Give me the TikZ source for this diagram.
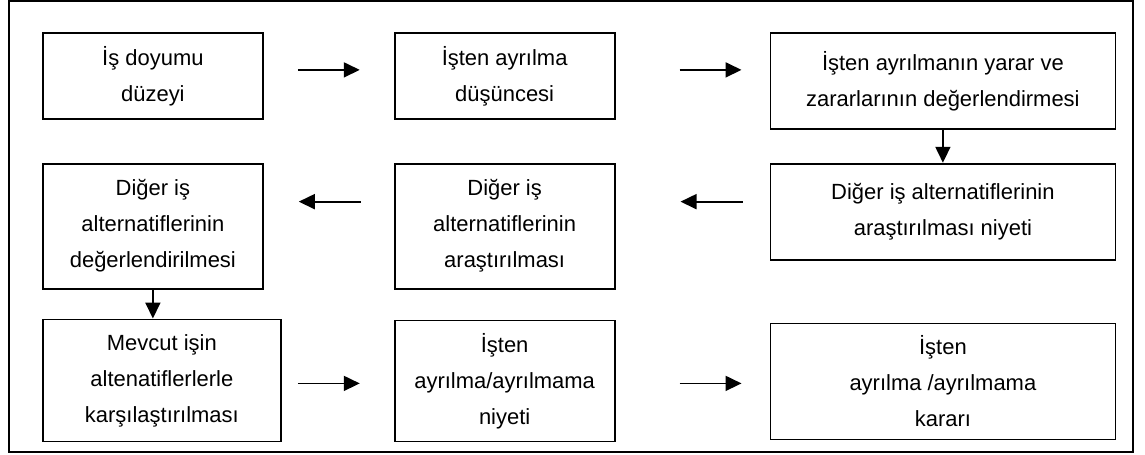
\documentclass[tikz,border=0pt]{standalone}
\usepackage{fontspec}
\setmainfont{Liberation Sans}
\usetikzlibrary{positioning,arrows.meta}

\begin{document}
\begin{tikzpicture}[
    every node/.style={font=\fontsize{12.5}{20.5}\selectfont},
    stage/.style={draw, line width=1pt, align=center, inner sep=3pt,
                  minimum width=4.4cm, minimum height=1.72cm},
    wide/.style={stage, minimum width=6.9cm, minimum height=1.92cm},
    flow/.style={-{Triangle[length=0.32cm, width=0.3cm]}, line width=1pt},
  ]
  \useasboundingbox (0,0) rectangle (22.9,-9.08);

  % outer frame
  \draw[line width=1pt] (0.18,-0.02) rectangle (22.66,-9.04);

  % first row
  \node[stage, anchor=north west] (doyum) at (0.84,-0.64) {İş doyumu\\ düzeyi};
  \node[stage, right=2.6cm of doyum.north east, anchor=north west] (dusunce)
        {İşten ayrılma\\ düşüncesi};
  \node[wide, right=3.08cm of dusunce.north east, anchor=north west] (yarar)
        {İşten ayrılmanın yarar ve\\ zararlarının değerlendirmesi};

  % second row, read from right to left
  \node[wide, below=0.66cm of yarar] (niyet)
        {Diğer iş alternatiflerinin\\ araştırılması niyeti};
  \node[stage, below=0.86cm of dusunce, minimum height=2.5cm] (arastir)
        {Diğer iş\\ alternatiflerinin\\ araştırılması};
  \node[stage, below=0.86cm of doyum, minimum height=2.5cm] (deger)
        {Diğer iş\\ alternatiflerinin\\ değerlendirilmesi};

  % third row
  \node[stage, below=0.58cm of deger.south west, anchor=north west,
        minimum width=4.76cm, minimum height=2.44cm] (kars)
        {Mevcut işin\\ altenatiflerlerle\\ karşılaştırılması};
  \node[stage, below=0.6cm of arastir, minimum height=2.42cm] (ayrniyet)
        {İşten\\ ayrılma/ayrılmama\\ niyeti};
  \node[wide, below=1.24cm of niyet, minimum height=2.32cm] (karar)
        {İşten\\ ayrılma /ayrılmama\\ kararı};

  % arrows between the stages
  \draw[flow, shorten <=0.68cm, shorten >=0.68cm]
        ([yshift=0.12cm]doyum.east) -- ([yshift=0.12cm]dusunce.west);
  \draw[flow, shorten <=1.28cm, shorten >=0.56cm]
        ([yshift=0.12cm]dusunce.east) -- ([yshift=0.12cm]dusunce.east -| yarar.west);
  \draw[flow] (yarar) -- (niyet);
  \draw[flow, shorten <=0.54cm, shorten >=1.3cm]
        ([yshift=0.2cm]niyet.west) -- ([yshift=0.2cm]niyet.west -| arastir.east);
  \draw[flow, shorten <=0.66cm, shorten >=0.7cm]
        ([yshift=0.49cm]arastir.west) -- ([yshift=0.49cm]deger.east);
  \draw[flow] (deger.south) -- (deger.south |- kars.north);
  \draw[flow, shorten <=0.32cm, shorten >=0.68cm]
        ([yshift=-0.06cm]kars.east) -- ([yshift=-0.06cm]kars.east -| ayrniyet.west);
  \draw[flow, shorten <=1.28cm, shorten >=0.56cm]
        ([yshift=-0.05cm]ayrniyet.east) -- ([yshift=-0.05cm]ayrniyet.east -| karar.west);
\end{tikzpicture}
\end{document}
